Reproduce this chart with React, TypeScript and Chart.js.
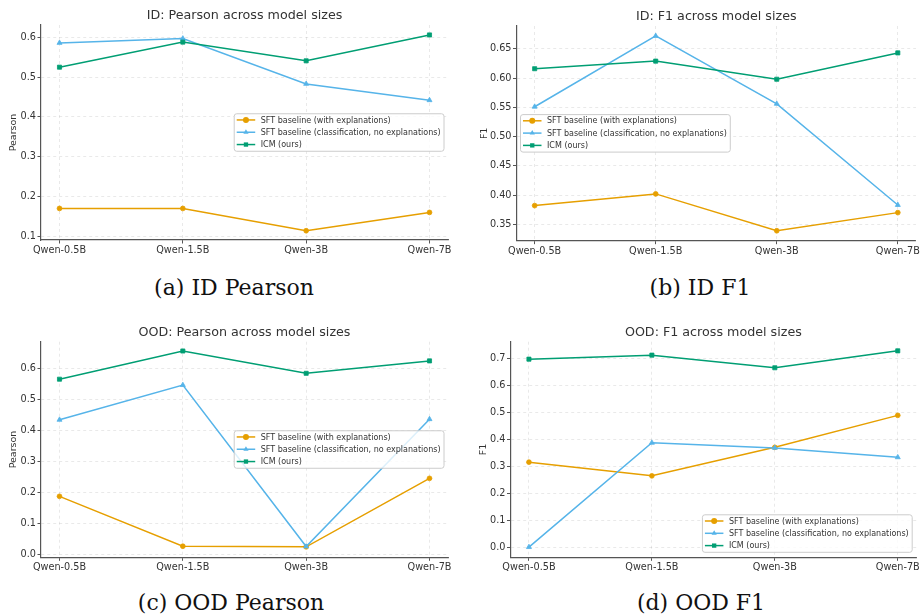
import React, { useEffect, useRef } from "react";
import { Chart, registerables } from "chart.js";

Chart.register(...registerables);

// ---------------- data ----------------
const MODELS = ["Qwen-0.5B", "Qwen-1.5B", "Qwen-3B", "Qwen-7B"];
const SERIES_LABELS = [
  "SFT baseline (with explanations)",
  "SFT baseline (classification, no explanations)",
  "ICM (ours)",
];
const SERIES_COLORS = ["#E69F00", "#56B4E9", "#009E73"];
const SERIES_MARKERS = ["circle", "triangle", "rect"];

const ID_PEARSON_SFT_EXPL = [0.17, 0.17, 0.114, 0.16];
const ID_PEARSON_SFT_CLS = [0.586, 0.597, 0.483, 0.442];
const ID_PEARSON_ICM = [0.525, 0.588, 0.541, 0.606];

const ID_F1_SFT_EXPL = [0.382, 0.402, 0.339, 0.37];
const ID_F1_SFT_CLS = [0.551, 0.672, 0.556, 0.383];
const ID_F1_ICM = [0.616, 0.629, 0.598, 0.643];

const OOD_PEARSON_SFT_EXPL = [0.187, 0.026, 0.024, 0.245];
const OOD_PEARSON_SFT_CLS = [0.434, 0.546, 0.025, 0.436];
const OOD_PEARSON_ICM = [0.565, 0.656, 0.584, 0.624];

const OOD_F1_SFT_EXPL = [0.316, 0.265, 0.371, 0.49];
const OOD_F1_SFT_CLS = [0.0, 0.388, 0.369, 0.334];
const OOD_F1_ICM = [0.699, 0.714, 0.667, 0.73];

const ID_PEARSON_TICKS = [0.1, 0.2, 0.3, 0.4, 0.5, 0.6];
const ID_F1_TICKS = [0.35, 0.4, 0.45, 0.5, 0.55, 0.6, 0.65];
const OOD_PEARSON_TICKS = [0.0, 0.1, 0.2, 0.3, 0.4, 0.5, 0.6];
const OOD_F1_TICKS = [0.0, 0.1, 0.2, 0.3, 0.4, 0.5, 0.6, 0.7];

const TITLES = [
  "ID: Pearson across model sizes",
  "ID: F1 across model sizes",
  "OOD: Pearson across model sizes",
  "OOD: F1 across model sizes",
];
const CAPTIONS = ["(a) ID Pearson", "(b) ID F1", "(c) OOD Pearson", "(d) OOD F1"];

// ---------------- layout ----------------
const SANS = "'DejaVu Sans', sans-serif";
const TEXT = "#333333";

type PanelCfg = {
  x: number; y: number; w: number; h: number;
  pl: number; pt: number; pr: number; pb: number;
  yMin: number; yMax: number; ticks: number[]; dec: number;
  title: string; yLabel: string; yLabelPad: number;
  series: number[][]; legend: string;
};

const PANELS: PanelCfg[] = [
  {
    x: 0, y: 0, w: 460, h: 262, pl: 41, pt: 25, pr: 448, pb: 240,
    yMin: 0.0907, yMax: 0.631, ticks: ID_PEARSON_TICKS, dec: 1,
    title: TITLES[0], yLabel: "Pearson", yLabelPad: 8.3,
    series: [ID_PEARSON_SFT_EXPL, ID_PEARSON_SFT_CLS, ID_PEARSON_ICM], legend: "center right",
  },
  {
    x: 460, y: 0, w: 461, h: 262, pl: 56.5, pt: 26, pr: 457.5, pb: 240.7,
    yMin: 0.322, yMax: 0.689, ticks: ID_F1_TICKS, dec: 2,
    title: TITLES[1], yLabel: "F1", yLabelPad: 19.3,
    series: [ID_F1_SFT_EXPL, ID_F1_SFT_CLS, ID_F1_ICM], legend: "center left",
  },
  {
    x: 0, y: 318, w: 460, h: 262, pl: 41, pt: 23.7, pr: 448, pb: 239.3,
    yMin: -0.0097, yMax: 0.686, ticks: OOD_PEARSON_TICKS, dec: 1,
    title: TITLES[2], yLabel: "Pearson", yLabelPad: 8.3,
    series: [OOD_PEARSON_SFT_EXPL, OOD_PEARSON_SFT_CLS, OOD_PEARSON_ICM], legend: "center right",
  },
  {
    x: 460, y: 318, w: 461, h: 262, pl: 50.5, pt: 23.7, pr: 457.5, pb: 239.3,
    yMin: -0.038, yMax: 0.764, ticks: OOD_F1_TICKS, dec: 1,
    title: TITLES[3], yLabel: "F1", yLabelPad: 17.6,
    series: [OOD_F1_SFT_EXPL, OOD_F1_SFT_CLS, OOD_F1_ICM], legend: "lower right",
  },
];

const CAPTION_POS = [
  { cx: 234, cy: 288 },
  { cx: 700, cy: 288 },
  { cx: 231, cy: 603 },
  { cx: 701, cy: 603 },
];

// ---------------- plugins ----------------
function drawMarker(ctx: CanvasRenderingContext2D, style: string, x: number, y: number, r: number) {
  ctx.beginPath();
  if (style === "circle") {
    ctx.arc(x, y, r, 0, Math.PI * 2);
  } else if (style === "triangle") {
    ctx.moveTo(x, y - r);
    ctx.lineTo(x + r * 0.866, y + r * 0.5);
    ctx.lineTo(x - r * 0.866, y + r * 0.5);
    ctx.closePath();
  } else {
    const s = r * 0.72;
    ctx.rect(x - s, y - s, 2 * s, 2 * s);
  }
  ctx.fill();
}

const panelDecor = {
  id: "panelDecor",
  afterDraw(chart: any, _args: any, opts: any) {
    const ctx: CanvasRenderingContext2D = chart.ctx;
    const ca = chart.chartArea;
    ctx.save();
    ctx.font = `12.7px ${SANS}`;
    ctx.fillStyle = TEXT;
    ctx.textAlign = "center";
    ctx.textBaseline = "middle";
    ctx.fillText(opts.title, (ca.left + ca.right) / 2, ca.top - 9.5);
    ctx.restore();
  },
  afterDatasetsDraw(chart: any, _args: any, opts: any) {
    const ctx: CanvasRenderingContext2D = chart.ctx;
    const ca = chart.chartArea;
    ctx.save();
    ctx.font = `8px ${SANS}`;
    let maxW = 0;
    SERIES_LABELS.forEach((l) => (maxW = Math.max(maxW, ctx.measureText(l).width)));
    const boxW = 2.5 + 18.5 + 5.5 + maxW + 3.5;
    const boxH = 37.5;
    const pad = 4;
    let bx = ca.right - pad - boxW;
    let by = (ca.top + ca.bottom) / 2 - boxH / 2;
    if (opts.loc === "center left") bx = ca.left + pad;
    if (opts.loc === "lower right") by = ca.bottom - 5 - boxH;
    const r = 2.5;
    ctx.beginPath();
    ctx.moveTo(bx + r, by);
    ctx.lineTo(bx + boxW - r, by);
    ctx.arcTo(bx + boxW, by, bx + boxW, by + r, r);
    ctx.lineTo(bx + boxW, by + boxH - r);
    ctx.arcTo(bx + boxW, by + boxH, bx + boxW - r, by + boxH, r);
    ctx.lineTo(bx + r, by + boxH);
    ctx.arcTo(bx, by + boxH, bx, by + boxH - r, r);
    ctx.lineTo(bx, by + r);
    ctx.arcTo(bx, by, bx + r, by, r);
    ctx.closePath();
    ctx.fillStyle = "rgba(255,255,255,0.8)";
    ctx.fill();
    ctx.strokeStyle = "#cccccc";
    ctx.lineWidth = 1;
    ctx.stroke();
    SERIES_LABELS.forEach((label, i) => {
      const ry = by + 6.2 + i * 12.3;
      const lx0 = bx + 2.5;
      const lx1 = lx0 + 18.5;
      ctx.strokeStyle = SERIES_COLORS[i];
      ctx.fillStyle = SERIES_COLORS[i];
      ctx.lineWidth = 1.5;
      ctx.beginPath();
      ctx.moveTo(lx0, ry);
      ctx.lineTo(lx1, ry);
      ctx.stroke();
      drawMarker(ctx, SERIES_MARKERS[i], (lx0 + lx1) / 2, ry, 3);
      ctx.fillStyle = TEXT;
      ctx.textAlign = "left";
      ctx.textBaseline = "middle";
      ctx.fillText(label, lx1 + 5.5, ry + 0.5);
    });
    ctx.restore();
  },
};

// ---------------- components ----------------
function Panel({ cfg }: { cfg: PanelCfg }) {
  const ref = useRef<HTMLCanvasElement>(null);
  useEffect(() => {
    const canvas = ref.current!;
    const datasets = cfg.series.map((vals, i) => ({
      label: SERIES_LABELS[i],
      data: vals.map((v, j) => ({ x: j, y: v })),
      borderColor: SERIES_COLORS[i],
      backgroundColor: SERIES_COLORS[i],
      pointBackgroundColor: SERIES_COLORS[i],
      pointBorderColor: SERIES_COLORS[i],
      pointStyle: SERIES_MARKERS[i],
      pointRadius: SERIES_MARKERS[i] === "circle" ? 2.4 : 2.9,
      pointBorderWidth: 0.8,
      borderWidth: 1.5,
      tension: 0,
      order: 2 - i,
    }));
    const gridCommon = {
      color: "rgba(0,0,0,0.11)",
      lineWidth: 0.8,
      drawTicks: true,
      tickLength: 3.5,
      tickColor: "#555555",
      tickWidth: 1,
      tickBorderDash: [],
    };
    const chart = new Chart(canvas, {
      type: "line",
      data: { datasets: datasets as any },
      plugins: [panelDecor as any],
      options: {
        animation: false,
        responsive: false,
        devicePixelRatio: 1,
        layout: { padding: { top: cfg.pt, right: cfg.w - cfg.pr, left: 0, bottom: 0 } },
        plugins: {
          legend: { display: false },
          title: { display: false },
          tooltip: { enabled: false },
          panelDecor: { title: cfg.title, loc: cfg.legend },
        } as any,
        scales: {
          x: {
            type: "linear",
            min: -0.15,
            max: 3.15,
            afterBuildTicks: (scale: any) => {
              scale.ticks = MODELS.map((_, i) => ({ value: i }));
            },
            afterFit: (scale: any) => {
              scale.height = cfg.h - cfg.pb;
            },
            ticks: {
              autoSkip: false,
              maxRotation: 0,
              padding: 1,
              color: TEXT,
              font: { family: SANS, size: 9.7 },
              callback: (v: any) => MODELS[Math.round(Number(v))],
            },
            grid: gridCommon as any,
            border: { display: true, color: "#555555", width: 1.2, dash: [3, 3] },
          },
          y: {
            type: "linear",
            min: cfg.yMin,
            max: cfg.yMax,
            afterBuildTicks: (scale: any) => {
              scale.ticks = cfg.ticks.map((v) => ({ value: v }));
            },
            afterFit: (scale: any) => {
              scale.width = cfg.pl;
            },
            ticks: {
              padding: 1.5,
              color: TEXT,
              font: { family: SANS, size: 9.7 },
              callback: (v: any) => Number(v).toFixed(cfg.dec),
            },
            title: {
              display: true,
              text: cfg.yLabel,
              color: TEXT,
              font: { family: SANS, size: 9.5 },
              padding: { top: cfg.yLabelPad, bottom: 0 },
            },
            grid: gridCommon as any,
            border: { display: true, color: "#555555", width: 1.2, dash: [3, 3] },
          },
        },
      } as any,
    });
    return () => chart.destroy();
  }, []);
  return (
    <canvas
      ref={ref}
      width={cfg.w}
      height={cfg.h}
      style={{ position: "absolute", left: cfg.x, top: cfg.y, width: cfg.w, height: cfg.h }}
    />
  );
}

export default function App() {
  return (
    <div
      style={{
        position: "absolute",
        left: 0,
        top: 0,
        width: 921,
        height: 616,
        background: "#ffffff",
        overflow: "hidden",
      }}
    >
      {PANELS.map((p, i) => (
        <Panel key={i} cfg={p} />
      ))}
      {CAPTIONS.map((c, i) => (
        <div
          key={c}
          style={{
            position: "absolute",
            left: CAPTION_POS[i].cx - 150,
            top: CAPTION_POS[i].cy - 14,
            width: 300,
            height: 28,
            lineHeight: "28px",
            textAlign: "center",
            fontFamily: "'DejaVu Serif', serif",
            fontSize: 22,
            color: "#111111",
            whiteSpace: "nowrap",
          }}
        >
          {c}
        </div>
      ))}
    </div>
  );
}
